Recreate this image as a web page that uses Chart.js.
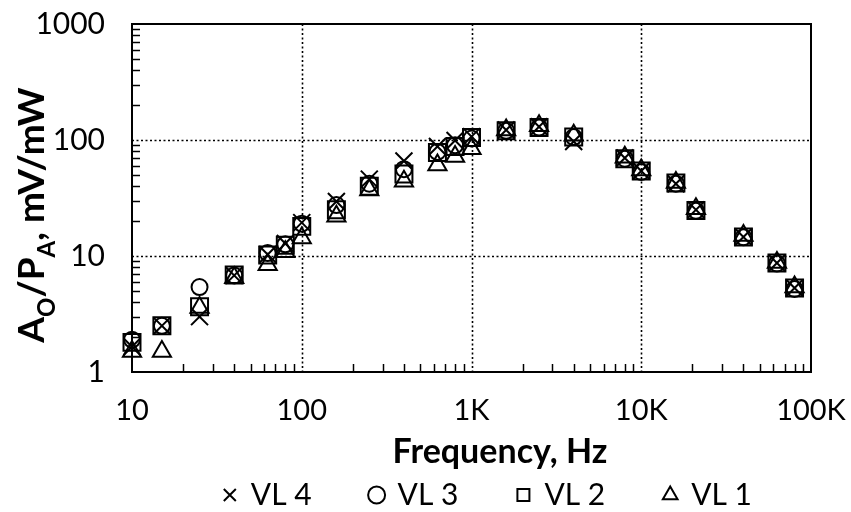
<!DOCTYPE html>
<html><head><meta charset="utf-8">
<script src="https://cdn.jsdelivr.net/npm/chart.js@4/dist/chart.umd.min.js"></script>
<style>html,body{margin:0;padding:0;background:#fff}#wrap{width:851px;height:512px}</style>
</head><body><div id="wrap"><canvas id="c" width="851" height="512"></canvas></div>
<script>
const frequencies = [10,15,25,40,63,80,100,160,250,400,630,800,1000,1600,2500,4000,8000,10000,16000,21000,40000,63000,80000];
const vl4 = [1.65,2.5,3.0,6.8,10.3,12.8,19.4,29.5,46,66,88,99,107,122,130,97,70,54,42,25,14.6,8.7,5.3];
const vl3 = [1.9,2.5,5.4,6.8,10.6,12.6,19,27.5,42,56,79,90,103,120,128,106,69,53,42,24.5,14.5,8.6,5.2];
const vl2 = [1.8,2.5,3.65,6.85,10.2,12.4,18,25,40,51,78,88,105,120,128,106,69,54,42.5,24.7,14.6,8.7,5.3];
const vl1 = [1.5,1.5,3.6,6.5,8.4,10.9,14.3,22,37,44,61,72,84,122,133,110,71,55,43,25.5,15,8.8,5.4];
const seriesNames = ['VL 4','VL 3','VL 2','VL 1'];
const xTickValues = [10,100,1000,10000,100000];
const xTickLabels = ['10','100','1K','10K','100K'];
const yTickValues = [1,10,100,1000];
const yTickLabels = ['1','10','100','1000'];
const xTitle = 'Frequency, Hz';
const yTitleParts = [['A',false],['O',true],['/P',false],['A',true],[', mV/mW',false]];

const FONT = 'Lato';
function pts(vals){ return frequencies.map((f,i)=>({x:f,y:vals[i]})); }

const framePlugin = {
  id:'frame',
  beforeDatasetsDraw(chart){
    const {ctx, chartArea:a, scales:{x,y}} = chart;
    ctx.save();
    ctx.strokeStyle='#000';
    ctx.lineWidth=1.6; ctx.setLineDash([2,2.5]);
    xTickValues.forEach(v=>{ if(v>x.min && v<x.max){ const p=Math.round(x.getPixelForValue(v))+0.5; ctx.beginPath(); ctx.moveTo(p,a.top); ctx.lineTo(p,a.bottom); ctx.stroke(); }});
    yTickValues.forEach(v=>{ if(v>y.min && v<y.max){ const p=Math.round(y.getPixelForValue(v))+0.5; ctx.beginPath(); ctx.moveTo(a.left,p); ctx.lineTo(a.right,p); ctx.stroke(); }});
    ctx.setLineDash([]);
    ctx.lineWidth=1.5;
    for(let d=x.min; d<x.max; d*=10){ for(let m=2;m<=9;m++){ const p=Math.round(x.getPixelForValue(d*m))+0.5; ctx.beginPath(); ctx.moveTo(p,a.bottom); ctx.lineTo(p,a.bottom-8); ctx.stroke(); } }
    for(let d=y.min; d<y.max; d*=10){ for(let m=2;m<=9;m++){ const p=Math.round(y.getPixelForValue(d*m))+0.5; ctx.beginPath(); ctx.moveTo(a.left,p); ctx.lineTo(a.left+8,p); ctx.stroke(); } }
    ctx.lineWidth=2;
    ctx.strokeRect(a.left,a.top,a.width,a.height);
    ctx.restore();
  },
  afterDraw(chart){
    const ctx=chart.ctx;
    ctx.save();
    ctx.fillStyle='#000';
    ctx.textBaseline='alphabetic';
    ctx.font='bold 34px '+FONT;
    ctx.textAlign='center';
    ctx.fillText(xTitle, 500, 463);
    ctx.textAlign='left';
    ctx.translate(0,215);
    ctx.rotate(-Math.PI/2);
    const main='bold 37px '+FONT, sub='bold 24px '+FONT;
    let total=0;
    yTitleParts.forEach(p=>{ctx.font=p[1]?sub:main; total+=ctx.measureText(p[0]).width;});
    let xx=-total/2;
    yTitleParts.forEach(p=>{ctx.font=p[1]?sub:main; ctx.fillText(p[0],xx,p[1]?55:44); xx+=ctx.measureText(p[0]).width;});
    ctx.restore();
  }
};

const common = {showLine:false, borderColor:'#000', backgroundColor:'rgba(0,0,0,0)', borderWidth:2, clip:false};
new Chart(document.getElementById('c'),{
  type:'scatter',
  data:{datasets:[
    Object.assign({label:seriesNames[0], data:pts(vl4), pointStyle:'crossRot', pointRadius:12},common),
    Object.assign({label:seriesNames[1], data:pts(vl3), pointStyle:'circle', pointRadius:8},common),
    Object.assign({label:seriesNames[2], data:pts(vl2), pointStyle:'rect', pointRadius:12},common),
    Object.assign({label:seriesNames[3], data:pts(vl1), pointStyle:'triangle', pointRadius:10.5},common)
  ]},
  options:{
    responsive:false, animation:false, devicePixelRatio:1,
    layout:{padding:{top:24,right:40,left:0,bottom:-8}},
    plugins:{
      tooltip:{enabled:false},
      legend:{position:'bottom', align:'end',
        labels:{usePointStyle:true, boxHeight:12, boxWidth:12, padding:59, color:'#000', font:{family:FONT,size:30}}}
    },
    scales:{
      x:{type:'logarithmic', min:10, max:100000,
        grid:{display:false, drawTicks:false}, border:{display:false},
        afterBuildTicks(s){ s.ticks = xTickValues.map(v=>({value:v})); },
        afterFit(s){ s.height=49; s.paddingRight=0; s.paddingLeft=0; },
        ticks:{autoSkip:false, maxRotation:0, padding:24, color:'#000', font:{family:FONT,size:29,lineHeight:1},
          callback(v){ const i=xTickValues.indexOf(v); return i>=0?xTickLabels[i]:''; }}
      },
      y:{type:'logarithmic', min:1, max:1000,
        grid:{display:false, drawTicks:false}, border:{display:false},
        afterBuildTicks(s){ s.ticks = yTickValues.map(v=>({value:v})); },
        afterFit(s){ s.width=132; s.paddingTop=0; s.paddingBottom=0; },
        ticks:{autoSkip:false, padding:27, color:'#000', font:{family:FONT,size:30},
          callback(v){ const i=yTickValues.indexOf(v); return i>=0?yTickLabels[i]:''; }}
      }
    }
  },
  plugins:[framePlugin]
});
</script></body></html>
